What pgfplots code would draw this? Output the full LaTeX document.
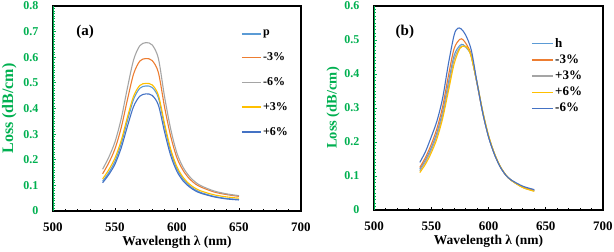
\documentclass[border=0pt]{standalone}
\usepackage{pgfplots}
\pgfplotsset{compat=1.18}
\usepackage{fontspec}
\setmainfont{Liberation Serif}
\definecolor{xgreen}{HTML}{00B050}
\definecolor{cA}{HTML}{5B9BD5}
\definecolor{cB}{HTML}{ED7D31}
\definecolor{cC}{HTML}{A5A5A5}
\definecolor{cD}{HTML}{FFC000}
\definecolor{cE}{HTML}{4472C4}
\pgfplotsset{
  myaxis/.style={
    scale only axis,
    anchor=south west,
    xmin=500, xmax=700,
    xtick={500,550,...,700},
    minor x tick num=4,
    minor y tick num=9,
    tick pos=left,
    tick align=inside,
    major tick length=3pt,
    minor tick length=2pt,
    axis line style={black, line width=1.2pt},
    x tick style={black, line width=0.8pt},
    y tick style={xgreen, line width=0.8pt},
    /pgf/number format/assume math mode=true,
    /pgf/number format/fixed,
    /pgf/number format/precision=1,
    x tick label style={font=\bfseries\fontsize{13}{13}\selectfont, yshift=-8pt},
    y tick label style={font=\bfseries\fontsize{12}{12}\selectfont, text=xgreen, xshift=-11pt},
    xlabel={Wavelength λ (nm)},
    xlabel style={font=\bfseries\fontsize{13.5}{14}\selectfont, yshift=2pt},
    ylabel style={font=\bfseries\fontsize{16}{17}\selectfont, text=xgreen},
    legend cell align=left,
    every axis plot/.append style={line width=1.1pt, smooth, no marks},
  }
}
\begin{document}
\begin{tikzpicture}
\path[use as bounding box] (0,0) rectangle (614pt,252pt);
% ---------------- (a) ----------------
\begin{axis}[myaxis,
  at={(53pt,41pt)}, width=248pt, height=205pt,
  ymin=0, ymax=0.8, ytick={0,0.1,...,0.8},
  yticklabels={0,0.1,0.2,0.3,0.4,0.5,0.6,0.7,0.8},
  ylabel={Loss (dB/cm)}, ylabel style={yshift=0pt},
  legend style={at={(0.758,0.885)}, anchor=north west, draw=none, fill=none,
    font=\bfseries\fontsize{12}{12}\selectfont, inner sep=0pt,
    row sep=14.3pt, nodes={inner xsep=1.5pt, inner ysep=0.5pt}},
  legend image code/.code={\draw[#1, line width=1.4pt] (0pt,0pt) -- (19pt,0pt);},
]
\addplot[color=cA] coordinates {(540,0.116)(545,0.150)(550,0.194)(555,0.262)(560,0.352)(565,0.436)(570,0.479)(575,0.488)(580,0.482)(585,0.442)(590,0.330)(595,0.230)(600,0.164)(605,0.124)(610,0.099)(615,0.082)(620,0.071)(630,0.057)(640,0.049)(650,0.045)};
\addlegendentry{p}
\addplot[color=cB] coordinates {(540,0.145)(545,0.188)(550,0.243)(555,0.325)(560,0.434)(565,0.535)(570,0.585)(575,0.595)(580,0.587)(585,0.540)(590,0.405)(595,0.290)(600,0.207)(605,0.158)(610,0.126)(615,0.105)(620,0.092)(630,0.074)(640,0.064)(650,0.057)};
\addlegendentry{-3\%}
\addplot[color=cC] coordinates {(540,0.163)(545,0.210)(550,0.270)(555,0.360)(560,0.480)(565,0.590)(570,0.645)(575,0.657)(580,0.648)(585,0.595)(590,0.445)(595,0.318)(600,0.225)(605,0.170)(610,0.135)(615,0.112)(620,0.097)(630,0.078)(640,0.067)(650,0.060)};
\addlegendentry{-6\%}
\addplot[color=cD] coordinates {(540,0.125)(545,0.161)(550,0.207)(555,0.275)(560,0.366)(565,0.448)(570,0.490)(575,0.498)(580,0.492)(585,0.452)(590,0.340)(595,0.240)(600,0.172)(605,0.131)(610,0.105)(615,0.088)(620,0.077)(630,0.063)(640,0.055)(650,0.050)};
\addlegendentry{+3\%}
\addplot[color=cE] coordinates {(540,0.110)(545,0.142)(550,0.183)(555,0.246)(560,0.330)(565,0.408)(570,0.448)(575,0.457)(580,0.451)(585,0.413)(590,0.308)(595,0.215)(600,0.154)(605,0.117)(610,0.094)(615,0.078)(620,0.068)(630,0.055)(640,0.047)(650,0.043)};
\addlegendentry{+6\%}
\draw[xgreen, line width=1.8pt] (rel axis cs:0,0) -- (rel axis cs:0,1);
\node[font=\bfseries\fontsize{15}{15}\selectfont] at (axis cs:526,0.698) {(a)};
\end{axis}
% ---------------- (b) ----------------
\begin{axis}[myaxis,
  at={(374pt,42pt)}, width=229pt, height=204pt,
  ymin=0, ymax=0.6, ytick={0,0.1,...,0.6},
  yticklabels={0,0.1,0.2,0.3,0.4,0.5,0.6},
  ylabel={Loss (dB/cm)}, ylabel style={font=\bfseries\fontsize{14.5}{15}\selectfont, yshift=-2pt},
  legend style={at={(0.686,0.845)}, anchor=north west, draw=none, fill=none,
    font=\bfseries\fontsize{13}{13}\selectfont, inner sep=0pt,
    row sep=5pt, nodes={inner xsep=1.5pt, inner ysep=0.5pt}},
  legend image code/.code={\draw[#1, line width=1.4pt] (0pt,0pt) -- (21pt,0pt);},
]
\addplot[color=cA] coordinates {(540,0.120)(545,0.148)(550,0.183)(555,0.228)(560,0.290)(565,0.375)(570,0.455)(575,0.484)(578,0.486)(582,0.472)(585,0.452)(590,0.372)(595,0.286)(600,0.217)(605,0.167)(610,0.129)(615,0.103)(620,0.087)(630,0.067)(640,0.057)};
\addlegendentry{h}
\addplot[color=cB] coordinates {(540,0.125)(545,0.155)(550,0.193)(555,0.240)(560,0.305)(565,0.395)(570,0.475)(575,0.502)(578,0.500)(582,0.480)(585,0.455)(590,0.372)(595,0.285)(600,0.216)(605,0.166)(610,0.129)(615,0.103)(620,0.087)(630,0.068)(640,0.058)};
\addlegendentry{-3\%}
\addplot[color=cC] coordinates {(540,0.115)(545,0.142)(550,0.176)(555,0.220)(560,0.280)(565,0.362)(570,0.443)(575,0.478)(578,0.482)(582,0.474)(585,0.451)(590,0.373)(595,0.288)(600,0.218)(605,0.167)(610,0.129)(615,0.103)(620,0.087)(630,0.066)(640,0.056)};
\addlegendentry{+3\%}
\addplot[color=cD] coordinates {(540,0.110)(545,0.135)(550,0.168)(555,0.210)(560,0.270)(565,0.350)(570,0.430)(575,0.475)(579,0.482)(582,0.475)(585,0.450)(590,0.375)(595,0.290)(600,0.220)(605,0.168)(610,0.130)(615,0.104)(620,0.087)(630,0.066)(640,0.055)};
\addlegendentry{+6\%}
\addplot[color=cE] coordinates {(540,0.140)(545,0.172)(550,0.215)(555,0.262)(560,0.330)(565,0.430)(570,0.515)(573,0.534)(576,0.533)(580,0.515)(585,0.470)(590,0.375)(595,0.285)(600,0.215)(605,0.165)(610,0.128)(615,0.103)(620,0.088)(630,0.070)(640,0.060)};
\addlegendentry{-6\%}
\draw[xgreen, line width=1.8pt] (rel axis cs:0,0) -- (rel axis cs:0,1);
\node[font=\bfseries\fontsize{15}{15}\selectfont] at (axis cs:527,0.525) {(b)};
\end{axis}
\end{tikzpicture}
\end{document}
